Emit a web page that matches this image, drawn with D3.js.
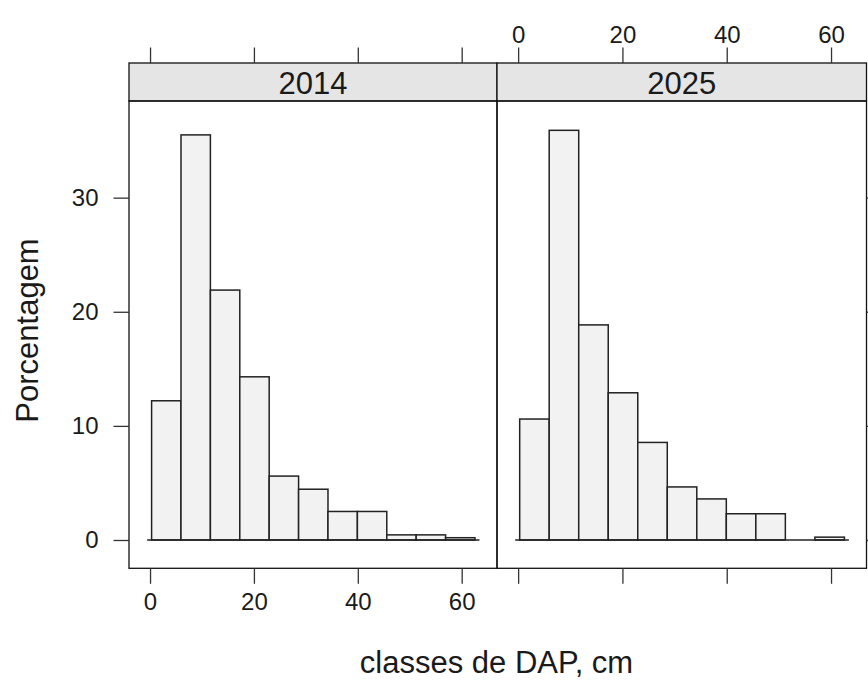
<!DOCTYPE html>
<html>
<head>
<meta charset="utf-8">
<script src="https://cdn.jsdelivr.net/npm/d3@7"></script>
<style>
  html, body { margin: 0; padding: 0; background: #fff; }
  svg { display: block; }
  text { font-family: "Liberation Sans", Arial, Helvetica, sans-serif; fill: #1a1a1a; }
</style>
</head>
<body>
<svg id="chart" width="868" height="680"></svg>
<script>
// ---- data ----
const panels = ["2014", "2025"];
const breaks = [0.3, 5.96, 11.62, 17.28, 22.94, 28.6, 34.26, 39.92, 45.58, 51.24, 56.9, 62.56];
const pct2014 = [12.2, 35.5, 21.9, 14.3, 5.6, 4.45, 2.5, 2.5, 0.45, 0.45, 0.2];
const pct2025 = [10.6, 35.9, 18.85, 12.9, 8.55, 4.65, 3.6, 2.3, 2.3, 0, 0.25];
const xTicks = [0, 20, 40, 60];
const yTicks = [0, 10, 20, 30];
const xLabel = "classes de DAP, cm";
const yLabel = "Porcentagem";

const series = [pct2014, pct2025];

// ---- layout ----
const svg = d3.select("#chart");
const panelTop = 101, panelBottom = 568.3, stripTop = 63;
const panelX = [[129, 497], [497, 866.5]];

const y = d3.scaleLinear().domain([-2.48, 38.47]).range([panelBottom, panelTop]);

const tickLen = 15.5;
const tickFont = 24;
const labelFont = 31;

panels.forEach((name, i) => {
  const [x0, x1] = panelX[i];
  const x = d3.scaleLinear().domain([-4.05, 66.8]).range([x0, x1]);
  const g = svg.append("g");

  // strip
  g.append("rect").attr("x", x0).attr("y", stripTop).attr("width", x1 - x0).attr("height", panelTop - stripTop)
    .attr("fill", "#e5e5e5").attr("stroke", "#111").attr("stroke-width", 1.3);
  g.append("text").attr("x", (x0 + x1) / 2).attr("y", 94).attr("text-anchor", "middle")
    .attr("font-size", labelFont).text(name);

  // bars
  const bins = series[i].map((v, k) => ({ a: breaks[k], b: breaks[k + 1], v }));
  g.selectAll("rect.bar").data(bins).enter().append("rect").attr("class", "bar")
    .attr("x", d => x(d.a)).attr("width", d => x(d.b) - x(d.a))
    .attr("y", d => y(d.v)).attr("height", d => y(0) - y(d.v))
    .attr("fill", "#f2f2f2").attr("stroke", "#222").attr("stroke-width", 1.5);
  // baseline at zero
  g.append("line").attr("x1", x(breaks[0]) - 4.5).attr("x2", x(breaks[breaks.length - 1]) + 4.5)
    .attr("y1", y(0)).attr("y2", y(0)).attr("stroke", "#222").attr("stroke-width", 1.5);

  // panel frame
  g.append("rect").attr("x", x0).attr("y", panelTop).attr("width", x1 - x0).attr("height", panelBottom - panelTop)
    .attr("fill", "none").attr("stroke", "#111").attr("stroke-width", 1.3);

  // bottom ticks
  const bottomAxis = d3.axisBottom(x).tickValues(xTicks).tickSize(tickLen).tickPadding(4)
    .tickFormat(i === 0 ? d3.format("d") : () => "");
  const ba = g.append("g").attr("transform", `translate(0,${panelBottom})`).call(bottomAxis);
  ba.select(".domain").remove();
  ba.selectAll("line").attr("stroke", "#333").attr("stroke-width", 1.3);
  ba.selectAll("text").attr("font-size", tickFont).attr("dy", "0.93em").attr("fill", "#1a1a1a");

  // top ticks
  const topAxis = d3.axisTop(x).tickValues(xTicks).tickSize(tickLen).tickPadding(5)
    .tickFormat(i === 1 ? d3.format("d") : () => "");
  const ta = g.append("g").attr("transform", `translate(0,${stripTop})`).call(topAxis);
  ta.select(".domain").remove();
  ta.selectAll("line").attr("stroke", "#333").attr("stroke-width", 1.3);
  ta.selectAll("text").attr("font-size", tickFont).attr("fill", "#1a1a1a");

  if (i === 0) {
    const la = g.append("g").attr("transform", `translate(${x0},0)`)
      .call(d3.axisLeft(y).tickValues(yTicks).tickSize(tickLen).tickPadding(15).tickFormat(d3.format("d")));
    la.select(".domain").remove();
    la.selectAll("line").attr("stroke", "#333").attr("stroke-width", 1.3);
    la.selectAll("text").attr("font-size", tickFont).attr("fill", "#1a1a1a");
  } else {
    const ra = g.append("g").attr("transform", `translate(${x1},0)`)
      .call(d3.axisRight(y).tickValues(yTicks).tickSize(tickLen).tickFormat(() => ""));
    ra.select(".domain").remove();
    ra.selectAll("line").attr("stroke", "#333").attr("stroke-width", 1.3);
  }
});

// axis labels
svg.append("text").attr("x", 496.5).attr("y", 673).attr("text-anchor", "middle")
  .attr("font-size", labelFont).text(xLabel);
svg.append("text").attr("transform", "translate(38,330.5) rotate(-90)").attr("text-anchor", "middle")
  .attr("font-size", labelFont).text(yLabel);
</script>
</body>
</html>
